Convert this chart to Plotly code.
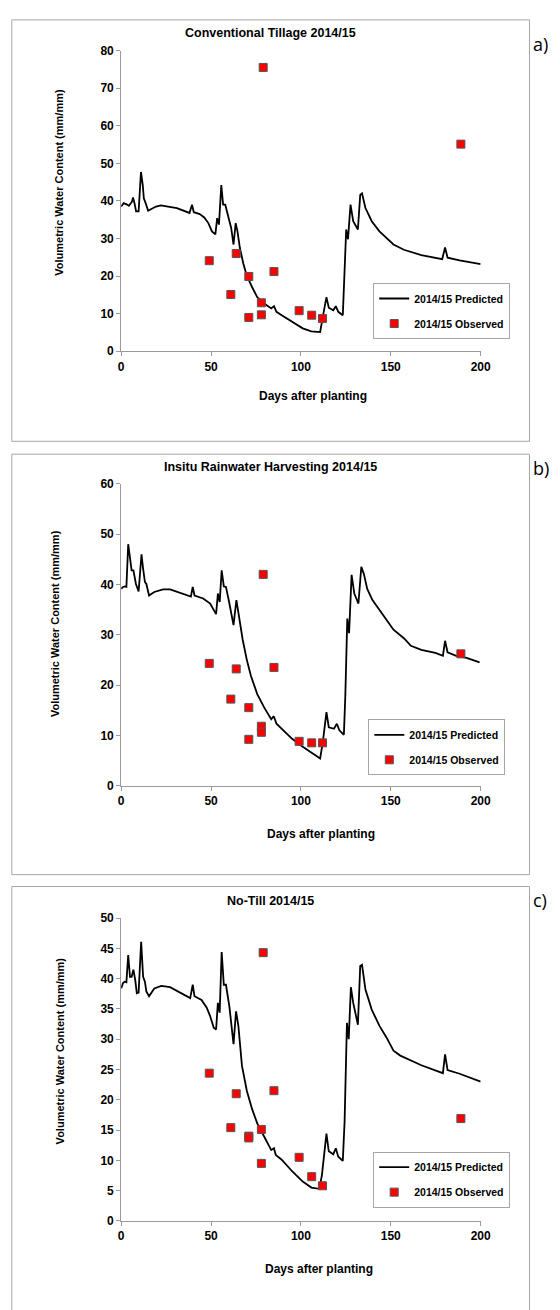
import plotly.graph_objects as go

# ---------------- data ----------------
titles = ["Conventional Tillage 2014/15", "Insitu Rainwater Harvesting 2014/15", "No-Till 2014/15"]
panel_labels = ["a)", "b)", "c)"]
series_pred_name = "2014/15 Predicted"
series_obs_name = "2014/15 Observed"
x_title = "Days after planting"
y_title = "Volumetric Water Content (mm/mm)"

# Panel a - Conventional tillage
pred_a_days = [0, 1.4, 3, 4.3, 6, 6.6, 7.4, 8.3, 9.7, 11, 12, 12.6, 13.6, 15, 16.5, 19.4, 22, 25, 31, 38,
               39.4, 40.4, 43.7, 46.2, 48.5, 50.5, 52.4, 53.4, 54.4, 55.7, 56.7, 57.9, 59.2, 61.2, 62.5,
               63.7, 64.7, 66, 68, 69.9, 72.8, 75.7, 79.6, 83.5, 85, 86.4, 89.3, 95, 101, 105.8, 110.7,
               111.7, 114.2, 115.5, 118, 119.4, 120.8, 123.3, 124.3, 125.2, 126.2, 127.6, 129.1, 131.7,
               133, 134, 135.9, 139.4, 143.7, 147.6, 151.5, 157.3, 167, 178.6, 180.2, 181.6, 188.3, 200]
pred_a_vals = [38.5, 39.4, 39.1, 38.7, 39.8, 40.9, 39.4, 37.2, 37.2, 47.7, 44.2, 40.7, 39.4, 37.4, 37.8, 38.5,
               38.8, 38.6, 38.1, 36.8, 39.0, 37.0, 36.5, 35.6, 34.1, 31.9, 31.1, 35.4, 33.7, 44.2, 39.0,
               39.0, 36.8, 32.8, 28.4, 34.1, 31.9, 27.6, 23.2, 20.1, 17.1, 14.4, 12.7, 11.4, 12.0, 10.5,
               9.6, 7.9, 6.1, 5.3, 5.1, 7.9, 14.4, 11.6, 10.9, 12.0, 10.5, 9.6, 20.6, 32.4, 29.8, 39.0,
               34.6, 32.4, 41.6, 42.0, 38.1, 34.6, 31.9, 30.2, 28.4, 27.0, 25.6, 24.5, 27.6, 24.9, 24.2, 23.2]
obs_a_days = [49, 61, 64, 71, 71, 78, 78, 79, 85, 99, 106, 112, 189]
obs_a_vals = [24.1, 15.1, 26.0, 19.9, 9.0, 12.9, 9.7, 75.5, 21.2, 10.8, 9.6, 8.7, 55.1]

# Panel b - In-situ rainwater harvesting
pred_b_days = [0, 1, 1.9, 2.9, 3.9, 4.9, 5.8, 6.8, 8.2, 9.7, 11.3, 12.2, 13.2, 14, 15.5, 18.4, 23.3, 27.2,
               33, 38.8, 39.8, 40.8, 45.6, 49.5, 52.8, 53.8, 54.8, 55.9, 57.1, 58.3, 60.2, 62.5, 64.1,
               65.6, 67.6, 69.9, 72.2, 75.7, 79.6, 83.5, 84.9, 86.4, 89.3, 95.1, 101, 106.8, 110.7, 112.2,
               114.2, 115.5, 118.4, 120, 121.4, 123.9, 124.7, 125.8, 126.8, 128.2, 129.7, 132, 133.6, 135,
               136.9, 139.8, 145.6, 151.5, 157.3, 161.2, 167, 174.8, 179, 180.2, 181.6, 186.4, 192.2, 199.4]
pred_b_vals = [39.1, 39.5, 39.6, 39.5, 48.0, 44.7, 42.8, 42.8, 40.1, 38.6, 46.0, 43.1, 40.5, 40.1, 37.8,
               38.5, 39.0, 39.0, 38.3, 37.6, 39.5, 37.8, 37.2, 36.2, 34.1, 38.2, 36.5, 42.8, 39.6, 39.5,
               36.2, 31.9, 36.9, 33.6, 29.0, 25.0, 21.8, 18.2, 15.5, 13.2, 13.8, 12.3, 11.3, 9.3, 7.7, 6.4,
               5.4, 8.7, 14.6, 11.6, 11.3, 12.3, 11.0, 10.1, 17.8, 33.2, 30.3, 41.9, 38.2, 36.2, 43.5,
               42.1, 39.1, 36.9, 33.9, 31.0, 29.3, 27.8, 27.0, 26.4, 25.8, 28.8, 26.5, 25.8, 25.4, 24.5]
obs_b_days = [49, 61, 64, 71, 71, 78, 78, 79, 85, 99, 106, 112, 189]
obs_b_vals = [24.3, 17.2, 23.2, 15.5, 9.2, 11.8, 10.6, 42.0, 23.5, 8.8, 8.5, 8.5, 26.2]

# Panel c - No-till
pred_c_days = [0, 1, 1.9, 2.9, 3.9, 4.9, 5.8, 6.8, 7.8, 8.7, 9.7, 11.1, 12.2, 13.2, 14, 15.5, 18.4, 22.3,
               27.2, 33, 38.4, 39.8, 40.8, 44.7, 47.6, 49.5, 51.5, 52.8, 53.8, 54.8, 55.9, 57.1, 58.3,
               60.2, 62.5, 63.9, 65.2, 67.2, 69.9, 72.8, 75.7, 79.6, 83.5, 85, 86, 89.3, 95.1, 101, 105.8,
               110.3, 111.7, 114.2, 115.5, 118, 119.4, 120.8, 123.3, 124.3, 125.6, 126.6, 127.8, 129.1,
               131.7, 133, 134, 135.9, 139.4, 143.7, 147.6, 151.5, 155.3, 167, 179, 180.2, 181.6, 188.3, 200]
pred_c_vals = [38.4, 39.3, 39.5, 39.4, 43.9, 40.3, 40.3, 41.5, 39.8, 37.6, 37.7, 46.1, 40.3, 39.5, 37.9,
               37.1, 38.4, 38.8, 38.6, 37.7, 36.8, 39.0, 37.1, 36.5, 35.2, 33.8, 31.9, 31.6, 36.0, 34.4,
               44.4, 39.0, 39.0, 35.4, 29.2, 34.6, 32.2, 25.6, 21.5, 18.5, 16.1, 13.9, 11.7, 12.0, 10.9,
               10.1, 8.2, 6.5, 5.5, 5.3, 7.6, 14.4, 11.5, 11.0, 12.0, 10.6, 9.9, 16.4, 32.7, 30.0, 38.6,
               36.0, 32.4, 42.1, 42.3, 38.2, 34.9, 32.2, 30.3, 28.1, 27.3, 25.7, 24.4, 27.5, 24.9, 24.3, 23.0]
obs_c_days = [49, 61, 64, 71, 71, 78, 78, 79, 85, 99, 106, 112, 189]
obs_c_vals = [24.4, 15.4, 21.0, 14.0, 13.7, 15.1, 9.5, 44.3, 21.5, 10.5, 7.3, 5.8, 16.9]

y_ranges = [[0, 80], [0, 60], [0, 50]]
y_dticks = [10, 10, 5]
x_range = [0, 200]
x_dtick = 50

# ---------------- layout geometry (pixels) ----------------
W, H = 560, 1310
def fx(px):
    return px / W
def fy(py):
    return 1 - py / H

plot_left, plot_right = 121, 489
panels = [
    dict(top=44, bottom=348, box=(9, 13, 539, 439), title_y=26, xt=(317, 393), yt=(57, 177),
         label_y=37, legend=(379, 279)),
    dict(top=482, bottom=787, box=(9, 452, 539, 877), title_y=465, xt=(326, 836), yt=(54, 623),
         label_y=466, legend=(374, 720)),
    dict(top=921, bottom=1227, box=(9, 889, 539, 1318), title_y=904, xt=(324, 1276), yt=(58, 1055),
         label_y=903, legend=(379, 1157)),
]

preds = [(pred_a_days, pred_a_vals), (pred_b_days, pred_b_vals), (pred_c_days, pred_c_vals)]
obss = [(obs_a_days, obs_a_vals), (obs_b_days, obs_b_vals), (obs_c_days, obs_c_vals)]

FONT = "Liberation Sans, Arial, sans-serif"
AXIS_GRAY = "#9a9a9a"
BOX_GRAY = "#a6a6a6"

fig = go.Figure()
layout = dict(
    width=W, height=H, margin=dict(l=0, r=0, t=0, b=0),
    paper_bgcolor="white", plot_bgcolor="white",
    font=dict(family=FONT, color="black"),
    showlegend=True,
)
annotations = []
shapes = []

for i, p in enumerate(panels):
    n = "" if i == 0 else str(i + 1)
    xa, ya = "x" + n, "y" + n
    leg = "legend" + n
    px_, pv_ = preds[i]
    ox_, ov_ = obss[i]
    fig.add_trace(go.Scatter(
        x=px_, y=pv_, mode="lines", name=series_pred_name,
        line=dict(color="black", width=1.8), xaxis=xa, yaxis=ya,
        legend=leg, legendgroup="pred" + n, showlegend=True))
    fig.add_trace(go.Scatter(
        x=ox_, y=ov_, mode="markers", name=series_obs_name,
        marker=dict(symbol="square", size=8, color="#ff0000", line=dict(color="#555555", width=1)),
        xaxis=xa, yaxis=ya, legend=leg, legendgroup="obs" + n, showlegend=True, cliponaxis=False))

    layout["xaxis" + n] = dict(
        domain=[fx(plot_left), fx(plot_right)], anchor=ya, range=x_range, dtick=x_dtick, tick0=0,
        showgrid=False, zeroline=False, showline=True, linecolor=AXIS_GRAY, linewidth=1,
        ticks="outside", ticklen=4, tickcolor=AXIS_GRAY, tickwidth=1,
        tickfont=dict(family=FONT, size=12, color="black", weight="bold"))
    layout["yaxis" + n] = dict(
        domain=[fy(p["bottom"]), fy(p["top"])], anchor=xa, range=y_ranges[i], dtick=y_dticks[i], tick0=0,
        showgrid=False, zeroline=False, showline=True, linecolor=AXIS_GRAY, linewidth=1,
        ticks="outside", ticklen=4, tickcolor=AXIS_GRAY, tickwidth=1,
        tickfont=dict(family=FONT, size=12, color="black", weight="bold"))
    lx, ly = p["legend"]
    layout[leg] = dict(
        x=fx(lx), y=fy(ly), xanchor="left", yanchor="top",
        bgcolor="white", bordercolor=BOX_GRAY, borderwidth=1,
        font=dict(family=FONT, size=10.5, color="black", weight="bold"),
        tracegroupgap=6, itemwidth=30, itemsizing="trace",
        entrywidth=110, entrywidthmode="pixels")

    bx0, by0, bx1, by1 = p["box"]
    shapes.append(dict(type="rect", xref="paper", yref="paper",
                       x0=fx(bx0), x1=fx(bx1), y0=fy(by1), y1=fy(by0),
                       line=dict(color=BOX_GRAY, width=1), fillcolor="rgba(0,0,0,0)", layer="below"))
    annotations.append(dict(text=titles[i], xref="paper", yref="paper", x=fx(274), y=fy(p["title_y"]),
                            xanchor="center", yanchor="middle", showarrow=False,
                            font=dict(family=FONT, size=12.5, color="black", weight="bold")))
    annotations.append(dict(text=x_title, xref="paper", yref="paper", x=fx(p["xt"][0]), y=fy(p["xt"][1]),
                            xanchor="center", yanchor="middle", showarrow=False,
                            font=dict(family=FONT, size=12, color="black", weight="bold")))
    annotations.append(dict(text=y_title, xref="paper", yref="paper", x=fx(p["yt"][0]), y=fy(p["yt"][1]),
                            xanchor="center", yanchor="middle", showarrow=False, textangle=-90,
                            font=dict(family=FONT, size=11, color="black", weight="bold")))
    annotations.append(dict(text=panel_labels[i], xref="paper", yref="paper", x=fx(541), y=fy(p["label_y"]),
                            xanchor="left", yanchor="middle", showarrow=False,
                            font=dict(family="Open Sans, Noto Sans, sans-serif", size=18, color="black")))

layout["annotations"] = annotations
layout["shapes"] = shapes
fig.update_layout(**layout)
fig.write_html("out.html", config={"displayModeBar": False},
               post_script="document.body.style.margin='0';document.body.style.overflow='hidden';")
